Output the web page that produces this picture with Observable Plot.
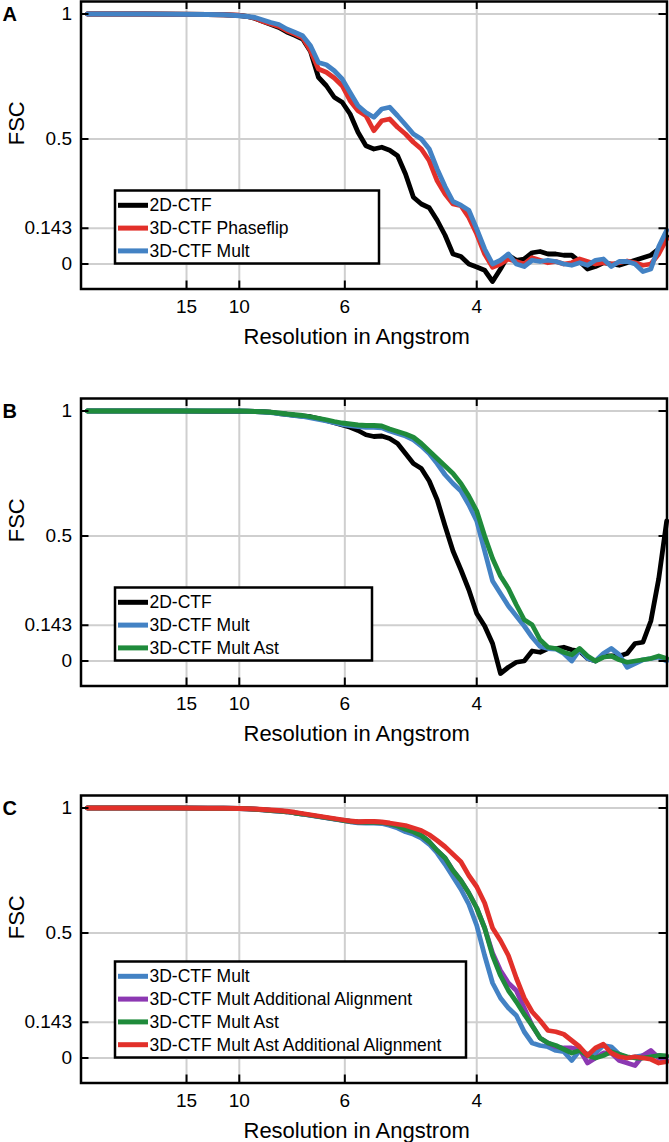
<!DOCTYPE html>
<html><head><meta charset="utf-8">
<script src="https://cdn.jsdelivr.net/npm/d3@7"></script>
<script src="https://cdn.jsdelivr.net/npm/@observablehq/plot@0.6"></script>
<style>
body{margin:0;background:#fff;}
#chart svg{display:block;}
</style></head><body><div id="chart"></div>
<script>
// spatial frequency (1/Angstrom)
const freq = [0.004,0.02,0.04,0.06,0.08,0.09,
0.100,0.105,0.110,0.115,0.120,0.125,0.130,0.135,0.140,0.145,
0.150,0.155,0.160,0.165,0.170,0.175,0.180,0.185,0.190,0.195,
0.200,0.205,0.210,0.215,0.220,0.225,0.230,0.235,0.240,0.245,
0.250,0.255,0.260,0.265,0.270,0.275,0.280,0.285,0.290,0.295,
0.300,0.305,0.310,0.315,0.320,0.325,0.330,0.335,0.340,0.345,
0.350,0.355,0.360,0.365,0.370];

const xTickResolution = [15, 10, 6, 4];
const xTickLabels = ["15", "10", "6", "4"];
const yTicks = [0, 0.143, 0.5, 1];

// Panel A
const a2D = [1,1,1,0.999,0.998,0.997,
0.994,0.99,0.982,0.97,0.958,0.946,0.928,0.915,0.9,0.85,
0.747,0.713,0.667,0.647,0.6,0.527,0.473,0.46,0.467,0.455,
0.433,0.36,0.267,0.24,0.225,0.175,0.115,0.04,0.03,0.0,
-0.012,-0.025,-0.07,-0.02,0.035,0.015,0.02,0.045,0.05,0.04,
0.04,0.035,0.035,0.01,-0.02,-0.01,0.005,0.0,-0.005,0.005,
0.015,0.025,0.035,0.06,0.11];
const a3DPhaseflip = [1,1,1,0.999,0.998,0.997,
0.995,0.99,0.983,0.97,0.96,0.95,0.933,0.92,0.905,0.853,
0.78,0.767,0.744,0.713,0.653,0.613,0.593,0.533,0.573,0.58,
0.547,0.52,0.487,0.46,0.413,0.333,0.28,0.24,0.233,0.186,
0.12,0.04,-0.013,0.0,0.02,0.01,0.0,0.025,0.015,0.005,
0.01,0.0,0.005,0.02,0.01,0.0,0.005,0.0,0.005,0.012,
0.005,-0.005,0.0,0.04,0.1];
const a3DMult = [1,1,1,0.999,0.998,0.997,
0.993,0.99,0.986,0.976,0.966,0.958,0.94,0.927,0.913,0.873,
0.806,0.797,0.773,0.74,0.686,0.633,0.606,0.587,0.62,0.627,
0.593,0.557,0.52,0.5,0.46,0.38,0.31,0.25,0.235,0.215,
0.14,0.06,0.0,0.015,0.04,0.0,-0.01,0.015,0.01,0.015,
0.01,0.0,-0.005,0.005,-0.005,0.015,0.02,-0.01,0.01,0.01,
0.0,-0.03,-0.02,0.07,0.135];

// Panel B
const b2D = [1,1,1,1,0.999,0.999,
0.999,0.999,0.998,0.997,0.995,0.99,0.987,0.983,0.98,0.977,
0.97,0.962,0.953,0.944,0.935,0.922,0.905,0.898,0.9,0.89,
0.87,0.83,0.79,0.77,0.72,0.645,0.54,0.44,0.365,0.285,
0.19,0.14,0.07,-0.05,-0.025,-0.005,0.0,0.04,0.035,0.05,
0.05,0.055,0.045,0.04,0.01,0.0,0.02,0.02,0.02,0.03,
0.07,0.075,0.16,0.33,0.56];
const b3DMult = [1,1,1,1,1,1,
1,0.999,0.998,0.996,0.994,0.99,0.986,0.982,0.978,0.972,
0.966,0.96,0.953,0.946,0.942,0.938,0.935,0.935,0.933,0.92,
0.91,0.9,0.885,0.86,0.83,0.79,0.745,0.71,0.68,0.625,
0.56,0.44,0.32,0.27,0.22,0.18,0.14,0.095,0.058,0.05,
0.048,0.03,0.0,0.045,0.01,0.0,0.03,0.05,0.025,-0.025,
-0.01,0.005,0.01,0.015,0.0];
const b3DMultAst = [1,1,1,1,1,1,
1,0.999,0.998,0.997,0.995,0.992,0.988,0.985,0.982,0.977,
0.971,0.965,0.958,0.952,0.948,0.944,0.942,0.942,0.94,0.928,
0.918,0.908,0.895,0.87,0.84,0.81,0.78,0.75,0.71,0.66,
0.6,0.5,0.41,0.34,0.29,0.225,0.165,0.145,0.085,0.055,
0.05,0.035,0.025,0.05,0.02,0.0,0.015,0.02,0.005,-0.005,
0.0,0.005,0.01,0.02,0.01];

// Panel C
const c3DMult = [1,1,1,1,0.999,0.999,
0.998,0.997,0.995,0.993,0.99,0.988,0.985,0.98,0.975,0.97,
0.965,0.96,0.955,0.95,0.945,0.941,0.94,0.94,0.938,0.93,
0.92,0.905,0.895,0.88,0.855,0.82,0.775,0.725,0.675,0.615,
0.53,0.41,0.3,0.24,0.2,0.17,0.105,0.06,0.05,0.045,
0.03,0.025,-0.01,0.03,0.015,0.02,0.05,0.045,0.015,0.0,
0.005,0.01,0.015,0.01,0.005];
const c3DMultAddAlign = [1,1,1,1,0.999,0.999,
0.998,0.997,0.995,0.993,0.99,0.988,0.985,0.98,0.976,0.971,
0.966,0.961,0.956,0.951,0.947,0.944,0.943,0.943,0.942,0.936,
0.928,0.915,0.905,0.89,0.865,0.83,0.8,0.75,0.71,0.66,
0.6,0.52,0.42,0.35,0.3,0.27,0.2,0.13,0.08,0.06,
0.045,0.04,0.04,0.035,-0.02,0.0,0.02,0.02,-0.01,-0.02,
-0.03,0.01,0.03,0.0,-0.01];
const c3DMultAst = [1,1,1,1,0.999,0.999,
0.998,0.997,0.995,0.993,0.99,0.988,0.985,0.98,0.976,0.971,
0.966,0.961,0.956,0.951,0.947,0.944,0.943,0.943,0.942,0.936,
0.928,0.915,0.905,0.89,0.865,0.83,0.8,0.75,0.71,0.66,
0.6,0.52,0.41,0.33,0.27,0.225,0.175,0.13,0.08,0.06,
0.05,0.035,0.02,0.03,0.01,0.0,0.01,0.025,0.015,0.005,
0.0,0.0,0.005,0.01,0.008];
const c3DMultAstAddAlign = [1,1,1,1,0.999,0.999,
0.998,0.997,0.996,0.994,0.992,0.99,0.987,0.983,0.978,0.973,
0.968,0.963,0.958,0.953,0.948,0.945,0.946,0.946,0.944,0.94,
0.935,0.93,0.92,0.91,0.893,0.87,0.845,0.815,0.785,0.73,
0.685,0.62,0.52,0.47,0.41,0.32,0.24,0.185,0.15,0.11,
0.105,0.095,0.07,0.045,0.01,0.04,0.055,0.02,0.005,0.0,
0.005,0.0,-0.005,-0.02,-0.015];

const names = {
  d2: "2D-CTF", phase: "3D-CTF Phaseflip", mult: "3D-CTF Mult",
  multAA: "3D-CTF Mult Additional Alignment", multAst: "3D-CTF Mult Ast",
  multAstAA: "3D-CTF Mult Ast Additional Alignment"
};
const colors = {black: "#000000", red: "#e2302a", blue: "#4382c4", green: "#1f8b3b", purple: "#8c38b2"};

const panels = [
  {letter: "A", height: 397, marginBottom: 108.5, box: {w: 264, h: 73},
   series: [
     {name: names.d2, values: a2D, color: colors.black},
     {name: names.phase, values: a3DPhaseflip, color: colors.red},
     {name: names.mult, values: a3DMult, color: colors.blue}]},
  {letter: "B", height: 397, marginBottom: 108.5, box: {w: 257, h: 73},
   series: [
     {name: names.d2, values: b2D, color: colors.black},
     {name: names.mult, values: b3DMult, color: colors.blue},
     {name: names.multAst, values: b3DMultAst, color: colors.green}]},
  {letter: "C", height: 348, marginBottom: 59.5, box: {w: 351, h: 96},
   series: [
     {name: names.mult, values: c3DMult, color: colors.blue},
     {name: names.multAA, values: c3DMultAddAlign, color: colors.purple},
     {name: names.multAst, values: c3DMultAst, color: colors.green},
     {name: names.multAstAA, values: c3DMultAstAddAlign, color: colors.red}]}
];

const xTicks = xTickResolution.map(r => 1 / r);
const xLabel = new Map(xTicks.map((t, i) => [t, xTickLabels[i]]));
const FONT = "'Liberation Sans', Arial, Helvetica, sans-serif";
const ML = 80.5, MR = 2.5, MT = 1;
const plotH = 287.5, plotW = 669 - ML - MR;
const gridStyle = {stroke: "#cfcfcf", strokeOpacity: 1, strokeWidth: 2};

function legendMark(series, box) {
  return (index, scales, values, dimensions) => {
    const g = d3.create("svg:g");
    const x0 = dimensions.marginLeft + 34.5;
    const bottom = scales.y(0);
    const top = bottom - box.h;
    g.append("rect").attr("x", x0).attr("y", top).attr("width", box.w).attr("height", box.h)
      .attr("fill", "white").attr("stroke", "black").attr("stroke-width", 2.5);
    series.forEach((s, i) => {
      const cy = top + 14.8 + i * 22.8;
      g.append("line").attr("x1", x0 + 3).attr("x2", x0 + 33).attr("y1", cy).attr("y2", cy)
        .attr("stroke", s.color).attr("stroke-width", 5);
      g.append("text").attr("x", x0 + 34.5).attr("y", cy).attr("dy", "0.35em")
        .attr("text-anchor", "start")
        .attr("font-size", 17.5).attr("font-family", FONT).attr("fill", "black").text(s.name);
    });
    return g.node();
  };
}

const root = document.getElementById("chart");
for (const p of panels) {
  const lines = p.series.map(s => Plot.line(
    freq.map((f, i) => ({f, v: s.values[i]})),
    {x: "f", y: "v", stroke: s.color, strokeWidth: 4.8, strokeLinejoin: "round", strokeLinecap: "round"}));
  const chart = Plot.plot({
    width: 669, height: p.height,
    marginLeft: ML, marginRight: MR, marginTop: MT, marginBottom: p.marginBottom,
    style: {fontFamily: FONT, background: "white", overflow: "visible", color: "black"},
    x: {domain: [0, 0.3702]},
    y: {domain: [-0.1, 1.05]},
    marks: [
      Plot.gridX(xTicks, gridStyle),
      Plot.gridY(yTicks, gridStyle),
      ...lines,
      legendMark(p.series, p.box),
      Plot.tickX(xTicks, {x: d => d, insetTop: plotH - 8, stroke: "black", strokeWidth: 2}),
      Plot.tickX(xTicks, {x: d => d, insetBottom: plotH - 8, stroke: "black", strokeWidth: 2}),
      Plot.tickY(yTicks, {y: d => d, insetRight: plotW - 8, stroke: "black", strokeWidth: 2}),
      Plot.tickY(yTicks, {y: d => d, insetLeft: plotW - 8, stroke: "black", strokeWidth: 2}),
      Plot.frame({stroke: "black", strokeWidth: 2.5}),
      Plot.axisX(xTicks, {tickSize: 0, tickPadding: 10, fontSize: 19, label: null,
        tickFormat: d => xLabel.get(d)}),
      Plot.axisY(yTicks, {tickSize: 0, tickPadding: 9, fontSize: 19, label: null,
        tickFormat: d => String(d)}),
      Plot.text(["Resolution in Angstrom"], {frameAnchor: "bottom-left", dx: 162.5, dy: 48,
        textAnchor: "start", lineAnchor: "middle", fontSize: 22}),
      Plot.text(["FSC"], {frameAnchor: "left", dx: -64.5, rotate: -90, fontSize: 22}),
      Plot.text([p.letter], {frameAnchor: "top-left", dx: -78.5, dy: 13.5, textAnchor: "start",
        lineAnchor: "middle", fontWeight: "bold", fontSize: 20})
    ]
  });
  root.appendChild(chart);
}
</script>
</body></html>
